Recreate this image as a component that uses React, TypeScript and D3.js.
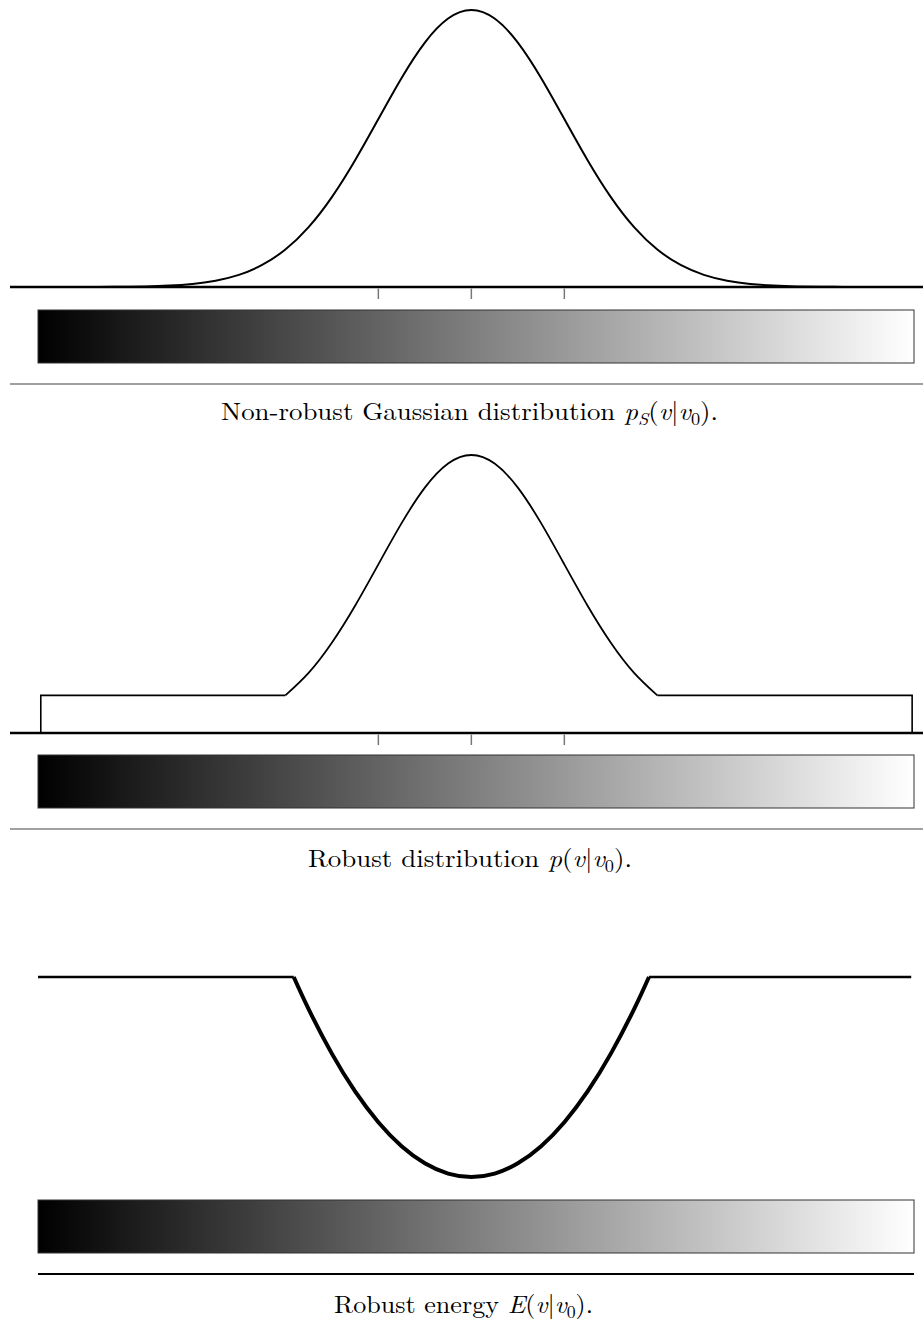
import React from "react";
import * as d3 from "d3";

// ---- data (v in units of sigma) ----
const halfV = [0, 0.25, 0.5, 0.75, 1, 1.25, 1.5, 1.75, 2, 2.25, 2.5, 2.75, 3, 3.25, 3.5, 3.75, 4, 4.25, 4.5, 4.75];
const halfP = [1, 0.9692, 0.8825, 0.7548, 0.6065, 0.4578, 0.3247, 0.2163, 0.1353, 0.0796, 0.0439, 0.0228, 0.0111, 0.0051, 0.0022, 0.0009, 0.0003, 0.0001, 0, 0];
const tickValues = [-1, 0, 1];
const robustFloor = 0.1353; // p level of the flat robust tails (cut at 2 sigma)
const robustCut = 2;
const robustEnds = [-4.63, 4.74];
const energyV = [0, 0.25, 0.5, 0.75, 1, 1.25, 1.5, 1.75, 1.91];
const energyE = [0, 0.031, 0.125, 0.281, 0.5, 0.781, 1.125, 1.531, 1.824];
const energyCap = 1.824;
const energyEnds = [-4.66, 4.73];
const captions = [
  { pre: "Non-robust Gaussian distribution ", fn: "p", sub: "S" },
  { pre: "Robust distribution ", fn: "p", sub: "" },
  { pre: "Robust energy ", fn: "E", sub: "" },
];

type Pt = [number, number];
const gaussPts: Pt[] = [
  ...halfV.slice(1).map((v, i) => [-v, halfP[i + 1]] as Pt).reverse(),
  ...halfV.map((v, i) => [v, halfP[i]] as Pt),
];

const W = 923;
const H = 1323;
const x = d3.scaleLinear().domain([-4.66, 4.76]).range([38, 914]);

const panels = [
  { axisY: 287, topY: 10, barY: 310, lineY: 384, capY: 420, capX: 221, capW: 497 },
  { axisY: 733, topY: 455, barY: 755, lineY: 829, capY: 867, capX: 308, capW: 324 },
  { axisY: 1177, topY: 977, barY: 1200, lineY: 1274, capY: 1313, capX: 334, capW: 259 },
];

function Caption({ i }: { i: number }) {
  const c = captions[i];
  const p = panels[i];
  return (
    <text
      x={p.capX}
      y={p.capY}
      textLength={p.capW}
      lengthAdjust="spacingAndGlyphs"
      fontFamily="'Latin Modern Roman', 'Liberation Serif', serif"
      fontSize={25}
      fill="#000"
    >
      {c.pre}
      <tspan fontStyle="italic">{c.fn}</tspan>
      {c.sub ? (
        <>
          <tspan fontStyle="italic" fontSize={17} dy={5}>{c.sub}</tspan>
          <tspan dy={-5}>(</tspan>
        </>
      ) : (
        <tspan>(</tspan>
      )}
      <tspan fontStyle="italic">v</tspan>
      <tspan>|</tspan>
      <tspan fontStyle="italic">v</tspan>
      <tspan fontSize={17} dy={5}>0</tspan>
      <tspan dy={-5}>).</tspan>
    </text>
  );
}

function Bar({ y }: { y: number }) {
  return (
    <rect x={x(-4.66)} y={y} width={x(4.76) - x(-4.66)} height={53} fill="url(#grayRamp)" stroke="#333" strokeWidth={1} />
  );
}

export default function App() {
  const y1 = d3.scaleLinear().domain([0, 1]).range([panels[0].axisY, panels[0].topY]);
  const y2 = d3.scaleLinear().domain([0, 1]).range([panels[1].axisY, panels[1].topY]);
  const y3 = d3.scaleLinear().domain([0, energyCap]).range([panels[2].axisY, panels[2].topY]);

  const smooth = d3.line<Pt>().x((d) => x(d[0])).y((d) => d[1]).curve(d3.curveNatural);

  const g1 = smooth(gaussPts.map((d) => [d[0], y1(d[1])] as Pt));

  const core = gaussPts.filter((d) => Math.abs(d[0]) <= robustCut).map((d) => [d[0], y2(d[1])] as Pt);
  const corePath = smooth(core) || "";
  const left = `M${x(robustEnds[0])},${y2(0)}L${x(robustEnds[0])},${y2(robustFloor)}L${x(-robustCut)},${y2(robustFloor)}`;
  const right = `M${x(robustCut)},${y2(robustFloor)}L${x(robustEnds[1])},${y2(robustFloor)}L${x(robustEnds[1])},${y2(0)}`;

  const ePts: Pt[] = [
    ...energyV.slice(1).map((v, i) => [-v, energyE[i + 1]] as Pt).reverse(),
    ...energyV.map((v, i) => [v, energyE[i]] as Pt),
  ];
  const ePath = smooth(ePts.map((d) => [d[0], y3(d[1])] as Pt));
  const eCut = energyV[energyV.length - 1];

  return (
    <svg width={W} height={H} style={{ position: "absolute", left: 0, top: 0, background: "#fff" }}>
      <defs>
        <linearGradient id="grayRamp" x1="0" x2="1" y1="0" y2="0">
          <stop offset="0" stopColor="#000" />
          <stop offset="1" stopColor="#fff" />
        </linearGradient>
      </defs>
      <rect width={W} height={H} fill="#fff" />

      {/* Panel 1 */}
      <path d={g1 || ""} fill="none" stroke="#000" strokeWidth={2} />
      <line x1={10} x2={W} y1={panels[0].axisY} y2={panels[0].axisY} stroke="#000" strokeWidth={2.5} />
      {tickValues.map((t) => (
        <line key={"a" + t} x1={x(t)} x2={x(t)} y1={panels[0].axisY + 1.5} y2={panels[0].axisY + 12} stroke="#777" strokeWidth={1.5} />
      ))}
      <Bar y={panels[0].barY} />
      <line x1={10} x2={W} y1={panels[0].lineY} y2={panels[0].lineY} stroke="#808080" strokeWidth={1.5} />
      <Caption i={0} />

      {/* Panel 2 */}
      <path d={left} fill="none" stroke="#000" strokeWidth={1.6} />
      <path d={corePath} fill="none" stroke="#000" strokeWidth={1.8} />
      <path d={right} fill="none" stroke="#000" strokeWidth={1.6} />
      <line x1={10} x2={W} y1={panels[1].axisY} y2={panels[1].axisY} stroke="#000" strokeWidth={2.5} />
      {tickValues.map((t) => (
        <line key={"b" + t} x1={x(t)} x2={x(t)} y1={panels[1].axisY + 1.5} y2={panels[1].axisY + 12} stroke="#777" strokeWidth={1.5} />
      ))}
      <Bar y={panels[1].barY} />
      <line x1={10} x2={W} y1={panels[1].lineY} y2={panels[1].lineY} stroke="#808080" strokeWidth={1.5} />
      <Caption i={1} />

      {/* Panel 3 */}
      <line x1={x(energyEnds[0])} x2={x(-eCut)} y1={y3(energyCap)} y2={y3(energyCap)} stroke="#000" strokeWidth={2.4} />
      <line x1={x(eCut)} x2={x(energyEnds[1])} y1={y3(energyCap)} y2={y3(energyCap)} stroke="#000" strokeWidth={2.4} />
      <path d={ePath || ""} fill="none" stroke="#000" strokeWidth={4} />
      <Bar y={panels[2].barY} />
      <line x1={x(-4.66)} x2={x(4.76)} y1={panels[2].lineY} y2={panels[2].lineY} stroke="#000" strokeWidth={2} />
      <Caption i={2} />
    </svg>
  );
}
